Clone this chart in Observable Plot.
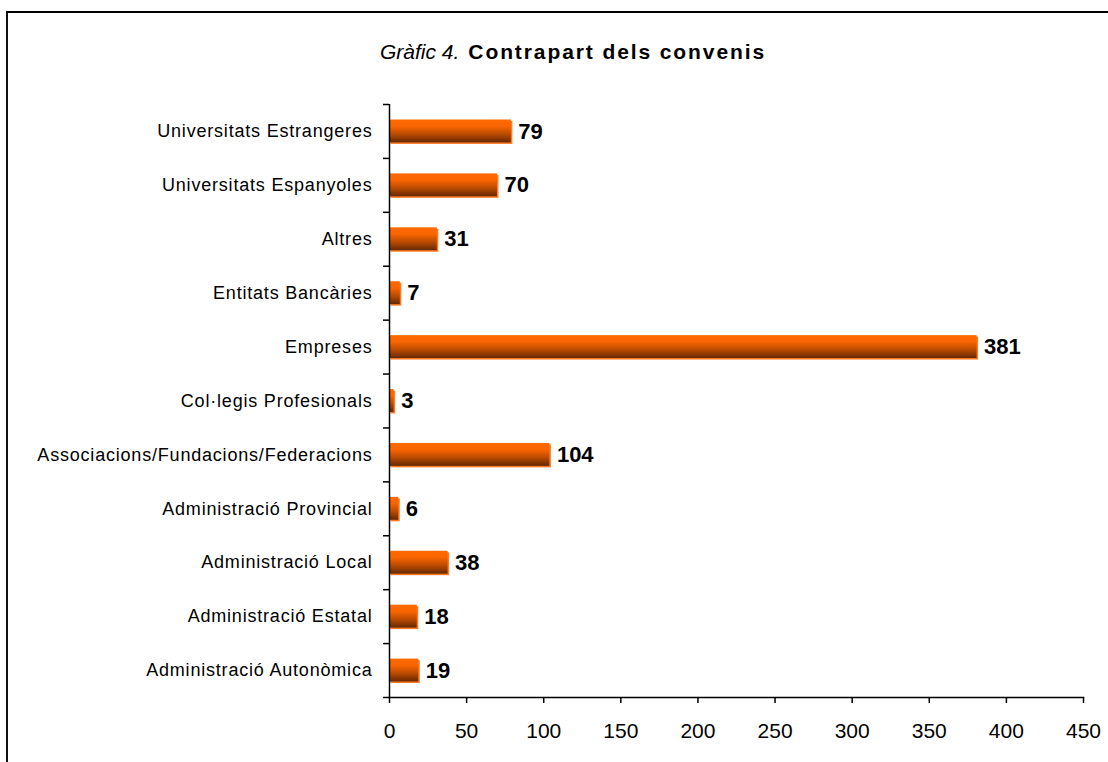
<!DOCTYPE html>
<html>
<head>
<meta charset="utf-8">
<script src="https://cdn.jsdelivr.net/npm/d3@7"></script>
<script src="https://cdn.jsdelivr.net/npm/@observablehq/plot@0.6"></script>
<style>
  html, body { margin: 0; padding: 0; background: #fff; overflow: hidden; width: 1108px; height: 762px; }
  #frame { position: absolute; left: 6px; top: 11px; width: 1200px; height: 900px;
           border-top: 2px solid #000; border-left: 2px solid #111; box-sizing: border-box; }
  #title { position: absolute; top: 40px; left: 0; width: 1146px; text-align: center;
           font-family: "Liberation Sans", Arial, sans-serif; font-size: 20px; line-height: 24px; color: #000; }
  #title .it { font-style: italic; font-size: 21px; }
  #title .bd { font-weight: bold; font-size: 21px; letter-spacing: 1.9px; margin-left: 9px; }
  #chart { position: absolute; left: 0; top: 0; }
  #chart svg g[aria-label="y-axis tick label"] text { letter-spacing: 0.8px; }
</style>
</head>
<body>
<div id="frame"></div>
<div id="title"><span class="it">Gràfic 4.</span><span class="bd">Contrapart dels convenis</span></div>
<div id="chart"></div>
<script>
const categories = [
  "Universitats Estrangeres",
  "Universitats Espanyoles",
  "Altres",
  "Entitats Bancàries",
  "Empreses",
  "Col·legis Profesionals",
  "Associacions/Fundacions/Federacions",
  "Administració Provincial",
  "Administració Local",
  "Administració Estatal",
  "Administració Autonòmica"
];
const values = [79, 70, 31, 7, 381, 3, 104, 6, 38, 18, 19];
const xTicks = [0, 50, 100, 150, 200, 250, 300, 350, 400, 450];

const data = categories.map((c, i) => ({category: c, value: values[i]}));

const W = 1108, H = 762;
const mTop = 104, mBottom = 65, mLeft = 389, mRight = 25;
const half = (H - mTop - mBottom) / categories.length / 2;

const svg = Plot.plot({
  width: W,
  height: H,
  marginTop: mTop,
  marginBottom: mBottom,
  marginLeft: mLeft,
  marginRight: mRight,
  style: {fontFamily: '"Liberation Sans", Arial, sans-serif', color: "#000", background: "transparent", overflow: "visible"},
  x: {domain: [0, 450]},
  y: {domain: categories, paddingInner: 0.575, paddingOuter: 0.2875, round: false},
  marks: [
    Plot.barX(data, {y: "category", x: "value", fill: "#ff7a22", dx: 1.5, dy: 1.5}),
    Plot.barX(data, {y: "category", x: "value", fill: "url(#barGrad)"}),
    Plot.text(data, {y: "category", x: "value", text: d => String(d.value), textAnchor: "start", dx: 7,
      fontWeight: "bold", fontSize: 22, fill: "#000"}),
    Plot.ruleX([0], {stroke: "#000", strokeWidth: 1.5}),
    Plot.frame({anchor: "bottom", stroke: "#000", strokeWidth: 1.5}),
    Plot.axisX({ticks: xTicks, tickSize: 6, tickPadding: 20, fontSize: 21, label: null, stroke: "#000", strokeWidth: 1.5}),
    Plot.axisY({tickSize: 0, tickPadding: 17, fontSize: 18, label: null}),
    Plot.axisY({tickSize: 6, tickFormat: () => "", label: null, dy: -half, stroke: "#000", strokeWidth: 1.5}),
    Plot.axisY({ticks: [categories[categories.length - 1]], tickSize: 6, tickFormat: () => "", label: null, dy: half, stroke: "#000", strokeWidth: 1.5})
  ]
});

const ns = "http://www.w3.org/2000/svg";
const defs = document.createElementNS(ns, "defs");
const grad = document.createElementNS(ns, "linearGradient");
grad.setAttribute("id", "barGrad");
grad.setAttribute("x1", "0"); grad.setAttribute("y1", "0");
grad.setAttribute("x2", "0"); grad.setAttribute("y2", "1");
[["0%", "#ff6a00"], ["30%", "#f86400"], ["65%", "#b84a00"], ["100%", "#662800"]].forEach(([o, c]) => {
  const s = document.createElementNS(ns, "stop");
  s.setAttribute("offset", o);
  s.setAttribute("stop-color", c);
  grad.appendChild(s);
});
defs.appendChild(grad);
svg.insertBefore(defs, svg.firstChild);

document.getElementById("chart").appendChild(svg);
</script>
</body>
</html>
